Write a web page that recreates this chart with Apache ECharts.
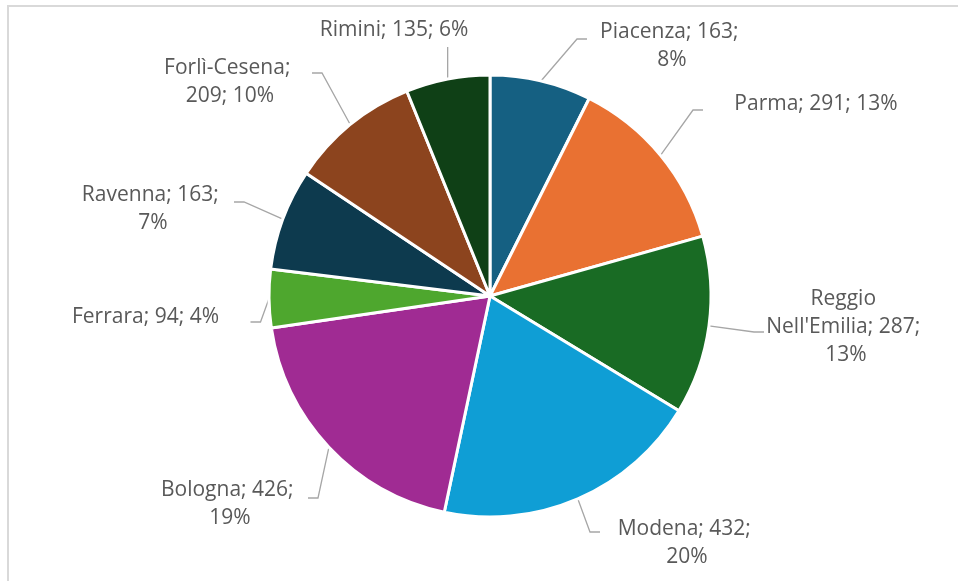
<!DOCTYPE html>
<html>
<head>
<meta charset="utf-8">
<script src="https://cdn.jsdelivr.net/npm/echarts@6/dist/echarts.min.js"></script>
<style>
  html, body { margin: 0; padding: 0; background: #ffffff; overflow: hidden; }
  #frame { position: absolute; left: 7px; top: 5px; width: 1200px; height: 900px;
           border-left: 2px solid #d9d9d9; border-top: 2px solid #d9d9d9; }
  #chart { position: absolute; left: 0; top: 0; width: 958px; height: 581px; }
</style>
</head>
<body>
<div id="frame"></div>
<div id="chart"></div>
<script>
// Provinces of Emilia-Romagna, counts and displayed shares
const regions = ['Piacenza', 'Parma', "Reggio Nell'Emilia", 'Modena', 'Bologna',
                 'Ferrara', 'Ravenna', 'Forlì-Cesena', 'Rimini'];
const counts = [163, 291, 287, 432, 426, 94, 163, 209, 135];
const shares = ['8%', '13%', '13%', '20%', '19%', '4%', '7%', '10%', '6%'];

// Slice colours
const colors = ['#156082', '#E97132', '#196B24', '#0F9ED5', '#A02B93',
                '#4EA72E', '#0D3A4E', '#8C441E', '#0F4016'];

// Wrap width of each label
const wrapWidths = [150, 200, 160, 150, 150, 200, 150, 150, 200];

// Label placement: text-block centre x, y, leader end offset from centre y, gap to text
const labelPlace = [
  [672, 46.5, -7.5, 10],
  [816, 104, 6, 13],
  [846, 327.5, 4.5, 2],
  [687, 543.5, -11.5, 12],
  [230, 504, -6, 3],
  [145.5, 317, 5, 5],
  [153, 209.5, -7.5, 6],
  [230, 82.5, -9.5, 7],
  [394, 30, 0, 3]
];

const chart = echarts.init(document.getElementById('chart'), null, { renderer: 'canvas' });

const data = regions.map((name, i) => ({
  name: name,
  value: counts[i],
  itemStyle: { color: colors[i] },
  label: { width: wrapWidths[i] }
}));

chart.setOption({
  animation: false,
  backgroundColor: 'transparent',
  series: [{
    type: 'pie',
    center: [490, 296],
    radius: 221,
    startAngle: 90,
    clockwise: true,
    avoidLabelOverlap: false,
    data: data,
    itemStyle: { borderColor: '#ffffff', borderWidth: 3 },
    label: {
      show: true,
      position: 'outside',
      overflow: 'break',
      fontFamily: '"Open Sans", sans-serif',
      fontSize: 21,
      lineHeight: 28,
      color: '#595959',
      formatter: p => `${p.name}; ${p.value}; ${shares[p.dataIndex]}`
    },
    labelLine: {
      show: true,
      length: 20,
      length2: 10,
      lineStyle: { color: '#a6a6a6', width: 1.3 }
    },
    labelLayout: function (p) {
      const [x, y, ay, gap] = labelPlace[p.dataIndex];
      const w = p.labelRect.width, h = p.labelRect.height;
      const s = p.labelLinePoints ? p.labelLinePoints[0] : null;
      const out = { x: x, y: y, align: 'center', verticalAlign: 'middle' };
      if (s) {
        if (Math.abs(s[0] - x) < w / 2 && s[1] > y + h / 2) {
          // label sits above its slice: straight vertical leader
          out.labelLinePoints = [s, [s[0], y + h / 2 + gap]];
        } else {
          const side = x > s[0] ? 1 : -1;
          const ex = x - side * (w / 2 + gap);
          const ey = y + ay;
          out.labelLinePoints = [s, [ex - side * 10, ey], [ex, ey]];
        }
      }
      return out;
    }
  }]
});
</script>
</body>
</html>
